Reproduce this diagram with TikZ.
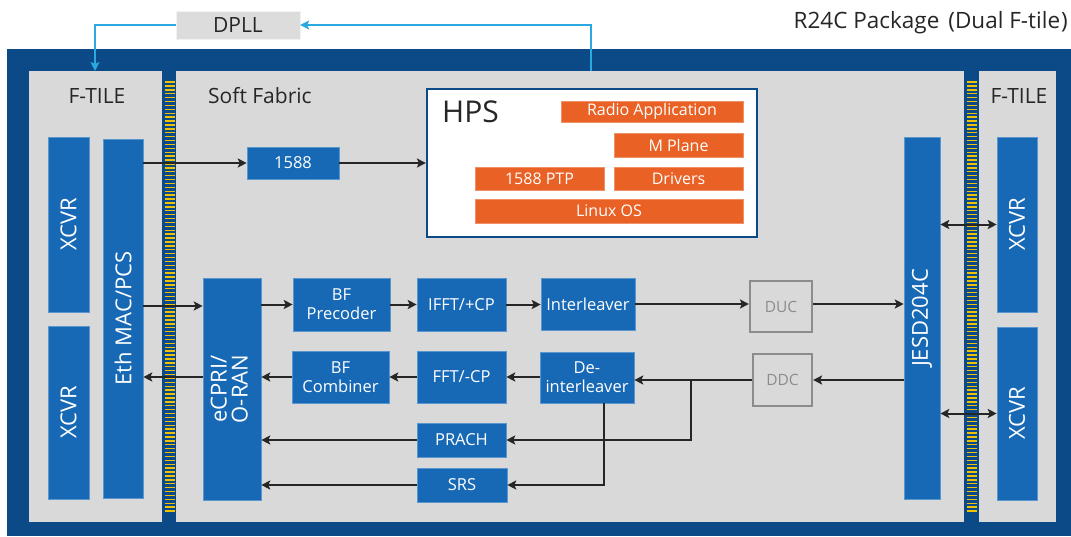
\documentclass[tikz,border=0pt]{standalone}
\usepackage{fontspec}
\setmainfont{Open Sans}
\usetikzlibrary{arrows.meta}
\definecolor{frameblue}{HTML}{0C4A87}
\definecolor{blkblue}{HTML}{1769B5}
\definecolor{blkedge}{HTML}{5A97CF}
\definecolor{bggray}{HTML}{D9D9D9}
\definecolor{dpllgray}{HTML}{DCDCDC}
\definecolor{orng}{HTML}{E96125}
\definecolor{busyel}{HTML}{F2C200}
\definecolor{lblue}{HTML}{2AA8E0}
\definecolor{arrgray}{HTML}{262626}
\definecolor{ghost}{HTML}{8C8C8C}
\tikzset{
  blk/.style={fill=blkblue, draw=blkedge, line width=0.6pt, text=white, inner sep=0pt, align=center, font=\fontsize{16.5}{19}\selectfont},
  vblk/.style={blk, font=\fontsize{22}{25}\selectfont},
  ora/.style={fill=orng, draw=orng!70!white, line width=0.5pt, text=white, inner sep=0pt, font=\fontsize{16}{18}\selectfont},
  gbox/.style={fill=bggray, draw=ghost, line width=2.2pt, text=ghost, inner sep=0pt, font=\fontsize{15.5}{18}\selectfont},
  arr/.style={draw=arrgray, line width=2pt, -{Stealth[length=9pt,width=9pt,inset=2pt]}},
  barr/.style={draw=arrgray, line width=2pt, {Stealth[length=9pt,width=9pt,inset=2pt]}-{Stealth[length=9pt,width=9pt,inset=2pt]}},
  darr/.style={draw=lblue, line width=2pt, -{Stealth[length=9pt,width=9pt,inset=2pt]}},
  ttl/.style={text=black!85, inner sep=0pt, font=\fontsize{21}{24}\selectfont},
}
\begin{document}
\begin{tikzpicture}[x=1pt,y=-1pt]
\useasboundingbox (0,0) rectangle (1071,536);
% frame
\fill[frameblue] (7,49) rectangle (1071,536);
\fill[bggray] (29,71) rectangle (162,522);
\fill[bggray] (176,71) rectangle (964,522);
\fill[bggray] (979,71) rectangle (1056,522);
% buses
\foreach \yy in {82,85.9,...,514} {
  \draw[busyel, line width=1.4pt] (164.5,\yy) -- (174.5,\yy);
  \draw[busyel, line width=1.4pt] (966.5,\yy) -- (977,\yy);
}
% titles
\node[ttl, anchor=east, font=\fontsize{22.5}{26}\selectfont] (pkg) at (1068,23) {R24C Package\hspace{9pt}(Dual F-tile\hspace{1pt})};
\node[ttl, anchor=center] (ftl) at (97,96) {F-TILE};
\node[ttl, anchor=west] (sf) at (208,96) {Soft Fabric};
\node[ttl, anchor=center] (ftr) at (1019,96) {F-TILE};
% DPLL
\node[fill=dpllgray, draw=white!90!gray, minimum width=124pt, minimum height=28pt, inner sep=0pt, font=\fontsize{21}{24}\selectfont, text=black!85] (dpll) at (238,25) {DPLL};
% left tile
\node[vblk, minimum width=41pt, minimum height=175pt] (xl1) at (68.5,224.5) {\rotatebox{90}{XCVR}};
\node[vblk, minimum width=41pt, minimum height=173pt] (xl2) at (68.5,412.5) {\rotatebox{90}{XCVR}};
\node[vblk, minimum width=40pt, minimum height=359pt] (eth) at (123,318.5) {\rotatebox{90}{Eth MAC/PCS}};
% 1588 and HPS
\node[blk, minimum width=92pt, minimum height=32pt] (ptp) at (293,163) {1588};
\node[fill=white, draw=frameblue, line width=2.2pt, minimum width=330pt, minimum height=148pt, inner sep=0pt] (hps) at (592,163) {};
\node[anchor=west, inner sep=0pt, font=\fontsize{30}{33}\selectfont, text=black!85] (hpst) at (442,112) {HPS};
\node[ora, minimum width=182pt, minimum height=21pt] (radio) at (652,111.5) {Radio Application};
\node[ora, minimum width=129pt, minimum height=24pt] (mpl) at (678.5,145) {M Plane};
\node[ora, minimum width=129pt, minimum height=23pt] (ptpsw) at (539.5,178.5) {1588 PTP};
\node[ora, minimum width=129pt, minimum height=23pt] (drv) at (678.5,178.5) {Drivers};
\node[ora, minimum width=268pt, minimum height=24pt] (linux) at (609,211) {Linux OS};
% datapath
\node[vblk, minimum width=58pt, minimum height=222pt] (ecpri) at (232,389) {\rotatebox{90}{\begin{tabular}{@{}c@{}}eCPRI/\\[-4pt]O-RAN\end{tabular}}};
\node[blk, minimum width=97pt, minimum height=53pt] (bfp) at (341.5,304.5) {BF\\Precoder};
\node[blk, minimum width=89pt, minimum height=53pt] (ifft) at (461.5,304.5) {IFFT/+CP};
\node[blk, minimum width=94pt, minimum height=52pt] (intl) at (588,304) {Interleaver};
\node[gbox, minimum width=62pt, minimum height=51pt] (duc) at (781,306.5) {DUC};
\node[blk, minimum width=97pt, minimum height=52pt] (bfc) at (340.5,377) {BF\\Combiner};
\node[blk, minimum width=89pt, minimum height=52pt] (fft) at (461.5,377) {FFT/-CP};
\node[blk, minimum width=94pt, minimum height=51pt] (dint) at (587,377.5) {De-\\interleaver};
\node[gbox, minimum width=59pt, minimum height=52pt] (ddc) at (782.5,380) {DDC};
\node[blk, minimum width=89pt, minimum height=34pt] (prach) at (461.5,440) {PRACH};
\node[blk, minimum width=90pt, minimum height=34pt] (srs) at (462,485) {SRS};
% right side
\node[vblk, minimum width=36pt, minimum height=362pt] (jesd) at (922,318) {\rotatebox{90}{JESD204C}};
\node[vblk, minimum width=40pt, minimum height=175pt] (xr1) at (1017,224.5) {\rotatebox{90}{XCVR}};
\node[vblk, minimum width=40pt, minimum height=173pt] (xr2) at (1017,413.5) {\rotatebox{90}{XCVR}};
% DPLL connections
\coordinate (hpsup) at (591,71);
\coordinate (ftop) at (95,71);
\draw[darr] (hpsup) |- (dpll.east);
\draw[darr] (dpll.west) -| (ftop);
% arrows
\draw[arr] (eth.east |- ptp.west) -- (ptp.west);
\draw[arr] (ptp.east) -- (hps.west |- ptp.east);
\coordinate (ethtx) at (143,306);
\draw[arr] (ethtx) -- (ecpri.west |- ethtx);
\draw[arr] (ecpri.west |- bfc.west) -- (eth.east |- bfc.west);
\draw[arr] (ecpri.east |- bfp.west) -- (bfp.west);
\draw[arr] (bfp.east) -- (ifft.west);
\draw[arr] (ifft.east) -- (intl.west |- ifft.east);
\draw[arr] (intl.east) -- (duc.west |- intl.east);
\draw[arr] (duc.east |- intl.east) -- (jesd.west |- intl.east);
\draw[arr] (jesd.west |- ddc.east) -- (ddc.east);
\draw[arr] (ddc.west) -- (dint.east |- ddc.west);
\draw[arr] (fft.west) -- (bfc.east |- fft.west);
\draw[arr] (dint.west |- fft.east) -- (fft.east);
\draw[arr] (bfc.west) -- (ecpri.east |- bfc.west);
\coordinate (br) at (691,380);
\draw[arr] (br) |- (prach.east);
\draw[arr] ([xshift=17pt]dint.south) |- (srs.east);
\draw[arr] (prach.west) -- (ecpri.east |- prach.west);
\draw[arr] (srs.west) -- (ecpri.east |- srs.west);
\draw[barr] (jesd.east |- xr1.west) -- (xr1.west);
\draw[barr] (jesd.east |- xr2.west) -- (xr2.west);
\end{tikzpicture}
\end{document}
